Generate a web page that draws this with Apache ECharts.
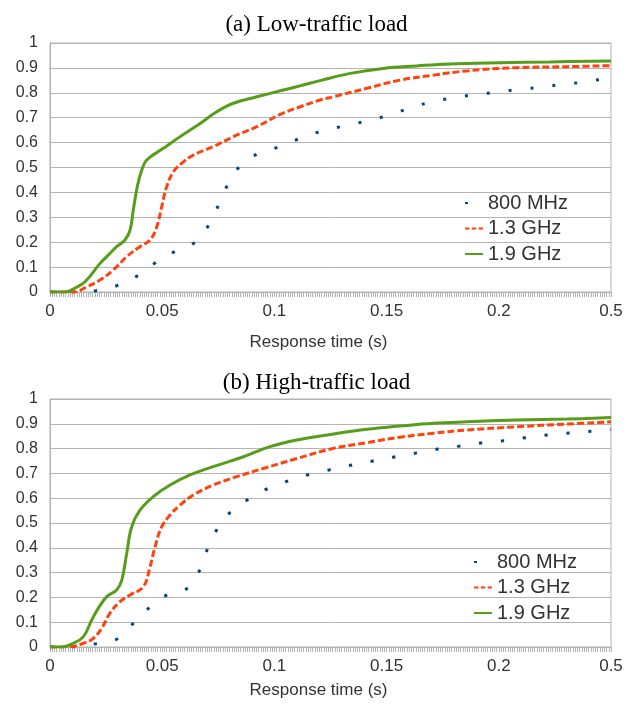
<!DOCTYPE html>
<html>
<head>
<meta charset="utf-8">
<script src="https://cdn.jsdelivr.net/npm/echarts@6/dist/echarts.min.js"></script>
<style>
html,body{margin:0;padding:0;background:#fff;}
#c{width:633px;height:711px;}
</style>
</head>
<body>
<div id="c"></div>
<script>
// Tick labels of the x axis (the last tick is labelled 0.5 in the original chart)
const xTickLabels = ['0', '0.05', '0.1', '0.15', '0.2', '0.5'];
const seriesNames = ['800 MHz', '1.3 GHz', '1.9 GHz'];
const chartTitles = ['(a) Low-traffic load', '(b) High-traffic load'];

// (a) Low-traffic load  [x (axis units), cumulative fraction]
const low800 = [[0,0],[0.012,0],[0.0204,0.005],[0.0297,0.025],[0.0388,0.064],[0.0468,0.116],[0.0553,0.161],[0.0642,0.197],[0.0705,0.265],[0.0749,0.345],[0.0789,0.426],[0.0843,0.502],[0.0923,0.554],[0.1017,0.582],[0.1106,0.614],[0.1199,0.643],[0.1296,0.664],[0.1393,0.683],[0.1486,0.704],[0.1582,0.732],[0.1676,0.758],[0.1772,0.776],[0.1869,0.79],[0.1967,0.8],[0.2065,0.811],[0.2163,0.82],[0.2261,0.831],[0.2359,0.841],[0.2457,0.854],[0.25,0.858]];
const low13 = [[0,0],[0.011,0],[0.0164,0.021],[0.0223,0.048],[0.0282,0.088],[0.0342,0.142],[0.0401,0.182],[0.0446,0.209],[0.0476,0.262],[0.0498,0.343],[0.052,0.423],[0.055,0.483],[0.0587,0.517],[0.0639,0.55],[0.0728,0.584],[0.0817,0.624],[0.0922,0.664],[0.1026,0.713],[0.1115,0.744],[0.1204,0.771],[0.1263,0.784],[0.1412,0.818],[0.156,0.851],[0.171,0.871],[0.1857,0.888],[0.208,0.901],[0.2303,0.905],[0.25,0.909]];
const low19 = [[0,0],[0.0067,0],[0.011,0.015],[0.0156,0.041],[0.0223,0.115],[0.0253,0.142],[0.0297,0.182],[0.0334,0.209],[0.0357,0.249],[0.0371,0.329],[0.0389,0.423],[0.0409,0.49],[0.0431,0.53],[0.0505,0.577],[0.058,0.624],[0.0669,0.677],[0.0743,0.724],[0.0817,0.758],[0.0922,0.784],[0.104,0.811],[0.1115,0.828],[0.1204,0.849],[0.1338,0.878],[0.1486,0.898],[0.1634,0.908],[0.178,0.916],[0.2005,0.921],[0.2228,0.924],[0.25,0.928]];

// (b) High-traffic load
const high800 = [[0,0],[0.0104,0],[0.0197,0.012],[0.0294,0.03],[0.0364,0.089],[0.0434,0.152],[0.0513,0.206],[0.0606,0.233],[0.0664,0.304],[0.0698,0.387],[0.074,0.468],[0.0798,0.539],[0.0877,0.592],[0.0963,0.636],[0.1055,0.668],[0.1148,0.694],[0.1243,0.714],[0.134,0.733],[0.1438,0.75],[0.1534,0.766],[0.1631,0.782],[0.1728,0.798],[0.1824,0.81],[0.1922,0.823],[0.202,0.832],[0.2118,0.844],[0.2215,0.855],[0.2313,0.863],[0.241,0.87],[0.25,0.877]];
const high13 = [[0,0],[0.0089,0.001],[0.0149,0.015],[0.0193,0.035],[0.023,0.075],[0.0267,0.136],[0.0312,0.183],[0.0357,0.21],[0.0416,0.243],[0.0446,0.324],[0.0468,0.404],[0.0498,0.485],[0.0535,0.532],[0.058,0.573],[0.0639,0.613],[0.0728,0.653],[0.0832,0.687],[0.0951,0.72],[0.11,0.76],[0.1263,0.801],[0.1412,0.824],[0.156,0.846],[0.1708,0.862],[0.1857,0.875],[0.208,0.888],[0.2303,0.899],[0.25,0.908]];
const high19 = [[0,0],[0.0052,0],[0.0104,0.015],[0.0149,0.042],[0.0186,0.109],[0.0215,0.156],[0.0253,0.203],[0.0297,0.23],[0.032,0.27],[0.0342,0.378],[0.0364,0.485],[0.0401,0.552],[0.046,0.606],[0.0535,0.653],[0.0624,0.694],[0.0728,0.727],[0.0862,0.767],[0.098,0.808],[0.11,0.835],[0.1263,0.859],[0.1412,0.878],[0.156,0.891],[0.1708,0.902],[0.1857,0.908],[0.208,0.915],[0.2303,0.919],[0.25,0.925]];

const colors = ['#004586', '#ff420e', '#579d1c'];
const SANS = 'Liberation Sans, Arial, sans-serif';
const SERIF = 'Liberation Serif, Times New Roman, serif';
const GRID = '#b3b3b3';
const TXT = '#333333';

const grids = [
  {left: 50, right: 22, top: 43, height: 249},
  {left: 50, right: 22, top: 399, height: 248}
];
const nameGaps = [42, 35];

function xAxisFor(i) {
  return {
    type: 'value', gridIndex: i, min: 0, max: 0.25, interval: 0.05,
    axisLine: {show: true, onZero: false, lineStyle: {color: GRID, width: 1}},
    axisTick: {show: true, length: 5, lineStyle: {color: GRID}},
    minorTick: {show: true, splitNumber: 50, length: 5, lineStyle: {color: GRID}},
    splitLine: {show: false},
    axisLabel: {
      formatter: v => xTickLabels[Math.round(v / 0.05)],
      fontSize: 17, color: TXT, fontFamily: SANS, margin: 11
    },
    name: 'Response time (s)', nameLocation: 'middle', nameGap: nameGaps[i],
    nameTextStyle: {fontSize: 17, color: TXT, fontFamily: SANS, padding: [0, 24, 0, 0]}
  };
}
function yAxisFor(i) {
  return {
    type: 'value', gridIndex: i, min: 0, max: 1, interval: 0.1,
    axisLine: {show: true, lineStyle: {color: GRID}},
    axisTick: {show: false},
    splitLine: {show: true, lineStyle: {color: GRID, width: 1}},
    axisLabel: {fontSize: 16, color: TXT, fontFamily: SANS, margin: 12}
  };
}

const styles = [
  {lineStyle: {color: colors[0], width: 3, type: [3, 19], cap: 'butt'}},
  {lineStyle: {color: colors[1], width: 3, type: [7, 3], cap: 'butt'}},
  {lineStyle: {color: colors[2], width: 3, type: 'solid'}}
];
const dataSets = [[low800, low13, low19], [high800, high13, high19]];

const series = [];
dataSets.forEach((set, gi) => {
  set.forEach((d, si) => {
    series.push({
      name: seriesNames[si], type: 'line', xAxisIndex: gi, yAxisIndex: gi,
      data: d, showSymbol: false, symbol: 'none', smooth: 0.4,
      color: colors[si], lineStyle: styles[si].lineStyle, silent: true, animation: false
    });
  });
});

function legendFor(left, top) {
  return {
    orient: 'vertical', left: left, top: top, padding: 0,
    itemWidth: 18, itemHeight: 10, itemGap: 5.5,
    selectedMode: false,
    itemStyle: {opacity: 0},
    textStyle: {fontSize: 20, color: TXT, fontFamily: SANS, lineHeight: 20},
    data: [
      {name: seriesNames[0]},
      {name: seriesNames[1], lineStyle: {type: [4.5, 2.3]}},
      {name: seriesNames[2]}
    ]
  };
}

const chart = echarts.init(document.getElementById('c'), null, {renderer: 'canvas'});
chart.setOption({
  animation: false,
  backgroundColor: '#ffffff',
  title: [
    {text: chartTitles[0], left: 'center', top: 8, textStyle: {fontFamily: SERIF, fontSize: 23, fontWeight: 'normal', color: '#000'}},
    {text: chartTitles[1], left: 'center', top: 366, textStyle: {fontFamily: SERIF, fontSize: 23, fontWeight: 'normal', color: '#000'}}
  ],
  legend: [legendFor(464, 193), legendFor(473, 552)],
  grid: grids.map(g => Object.assign({show: true, borderColor: GRID, borderWidth: 1, backgroundColor: 'transparent'}, g)),
  xAxis: [xAxisFor(0), xAxisFor(1)],
  yAxis: [yAxisFor(0), yAxisFor(1)],
  series: series
});
</script>
</body>
</html>
